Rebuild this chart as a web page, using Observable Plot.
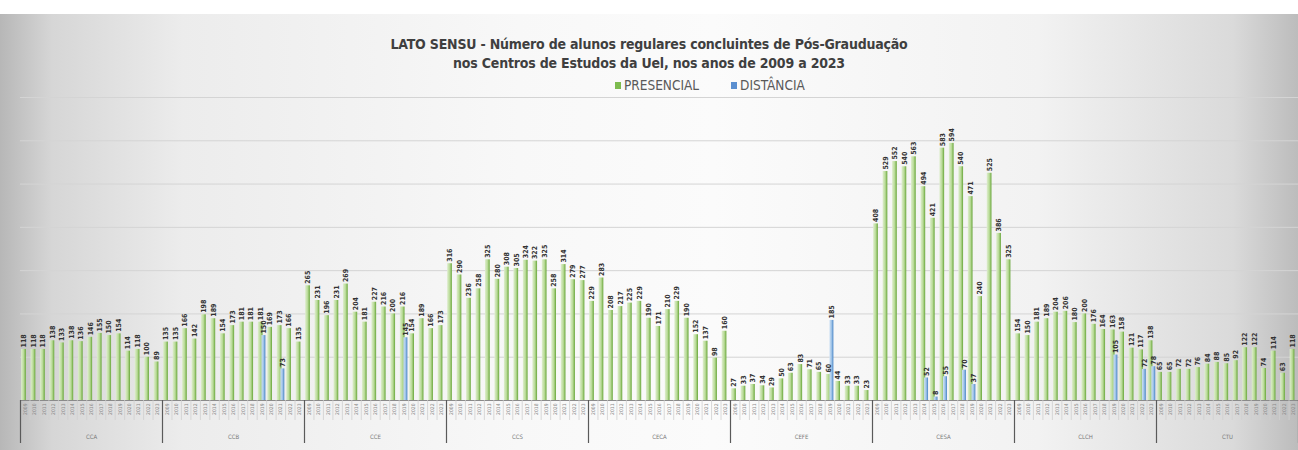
<!DOCTYPE html>
<html>
<head>
<meta charset="utf-8">
<script src="https://cdn.jsdelivr.net/npm/d3@7"></script>
<script src="https://cdn.jsdelivr.net/npm/@observablehq/plot@0.6"></script>
<style>
html, body { margin: 0; padding: 0; background: #ffffff; }
#wrap { position: relative; width: 1298px; height: 450px; overflow: hidden; }
#panel { position: absolute; left: 0; top: 14px; width: 1298px; height: 436px;
  background: linear-gradient(to right, #b7b7b7 0%, #d6d6d6 4%, #ececec 14%, #f8f8f8 40%, #fbfbfb 55%, #f2f2f2 80%, #dadada 95%, #bcbcbc 100%); }
#title { position: absolute; left: 0; width: 1298px; top: 35px; text-align: center;
  font-family: "Liberation Sans Narrow", "DejaVu Sans Condensed", "Arial Narrow", sans-serif;
  font-weight: bold; font-size: 14px; letter-spacing: -0.2px; line-height: 19px; color: #3f3f3f; }
#legend { position: absolute; top: 78px; left: 615px; white-space: nowrap;
  font-family: "Liberation Sans Narrow", "DejaVu Sans Condensed", "Arial Narrow", sans-serif;
  font-size: 13.5px; line-height: 14px; color: #595959; }
#legend span.sw { display: inline-block; width: 6px; height: 7px; margin-right: 3px; vertical-align: 1px; }
#legend span.item { margin-right: 32px; }
#chart { position: absolute; left: 0; top: 92px; }
</style>
</head>
<body>
<div id="wrap">
  <div id="panel"></div>
  <div id="title"></div>
  <div id="legend"></div>
  <div id="chart"></div>
</div>
<script>
// ---- data ----
const titleLines = [
  "LATO SENSU - Número de alunos regulares concluintes de Pós-Grauduação",
  "nos Centros de Estudos da Uel, nos anos de 2009 a 2023"
];
const seriesNames = ["PRESENCIAL", "DISTÂNCIA"];
const groups = ["CCA", "CCB", "CCE", "CCS", "CECA", "CEFE", "CESA", "CLCH", "CTU"];
const years = ["2009","2010","2011","2012","2013","2014","2015","2016","2017","2018","2019","2020","2021","2022","2023"];

const presCCA  = [118,118,118,138,133,138,136,146,155,150,154,114,118,100,89];
const presCCB  = [135,135,166,142,198,189,154,173,181,181,181,169,173,166,135];
const presCCE  = [265,231,196,231,269,204,181,227,216,200,216,154,189,166,173];
const presCCS  = [316,290,236,258,325,280,308,305,324,322,325,258,314,279,277];
const presCECA = [229,283,208,217,225,229,190,171,210,229,190,152,137,98,160];
const presCEFE = [27,33,37,34,29,50,63,83,71,65,60,44,33,33,23];
const presCESA = [408,529,552,540,563,494,421,583,594,540,471,240,525,386,325];
const presCLCH = [154,150,181,189,204,206,180,200,176,164,163,158,121,117,138];
const presCTU  = [65,65,72,72,76,84,88,85,92,122,122,74,114,63,118];

const distCCA  = [null,null,null,null,null,null,null,null,null,null,null,null,null,null,null];
const distCCB  = [null,null,null,null,null,null,null,null,null,null,150,null,73,null,null];
const distCCE  = [null,null,null,null,null,null,null,null,null,null,145,null,null,null,null];
const distCCS  = [null,null,null,null,null,null,null,null,null,null,null,null,null,null,null];
const distCECA = [null,null,null,null,null,null,null,null,null,null,null,null,null,null,null];
const distCEFE = [null,null,null,null,null,null,null,null,null,null,185,null,null,null,null];
const distCESA = [null,null,null,null,null,52,8,55,null,70,37,null,null,null,null];
const distCLCH = [null,null,null,null,null,null,null,null,null,null,105,null,null,72,78];
const distCTU  = [null,null,null,null,null,null,null,null,null,null,null,null,null,null,null];

const gridValues = [100, 200, 300, 400, 500, 600, 700];

// ---- build table ----
const presencial = [presCCA, presCCB, presCCE, presCCS, presCECA, presCEFE, presCESA, presCLCH, presCTU];
const distancia  = [distCCA, distCCB, distCCE, distCCS, distCECA, distCEFE, distCESA, distCLCH, distCTU];
const rows = groups.flatMap((g, gi) => years.map((y, yi) => ({
  g, y, idx: gi * years.length + yi, pres: presencial[gi][yi], dist: distancia[gi][yi]
})));
const distRows = rows.filter(d => d.dist != null);
const nCat = rows.length;
const boundaries = groups.map((g, i) => i * years.length).concat([nCat]);

// ---- header ----
document.getElementById("title").innerHTML = titleLines.join("<br>");
document.getElementById("legend").innerHTML =
  `<span class="item"><span class="sw" style="background:#7dbb4f"></span>${seriesNames[0]}</span>` +
  `<span class="item"><span class="sw" style="background:#5b8fd0"></span>${seriesNames[1]}</span>`;

const labelFont = "'Liberation Sans Narrow', 'DejaVu Sans Condensed', 'Arial Narrow', sans-serif";

const svg = Plot.plot({
  width: 1298,
  height: 358,
  marginTop: 5,
  marginBottom: 50,
  marginLeft: 20,
  marginRight: 0,
  x: {type: "linear", domain: [0, nCat], axis: null},
  y: {domain: [0, 700], axis: null},
  style: {background: "transparent", fontFamily: labelFont},
  marks: [
    Plot.ruleY(gridValues, {stroke: "#d4d4d4", strokeWidth: 1}),
    Plot.rect(rows, {x1: d => d.idx + 0.12, x2: d => d.idx + 0.62, y1: 0, y2: "pres", fill: "url(#gGreen)"}),
    Plot.rect(distRows, {x1: d => d.idx + 0.5, x2: d => d.idx + 0.92, y1: 0, y2: "dist", fill: "url(#gBlue)"}),
    Plot.ruleY([0], {stroke: "#8a8a8a", strokeWidth: 1}),
    Plot.ruleX(rows, {x: "idx", y1: 0, y2: 0, insetBottom: -20, stroke: "#cfcfcf", strokeWidth: 0.8}),
    Plot.ruleX(boundaries, {x: d => d, y1: 0, y2: 0, insetBottom: -43, stroke: "#5a5a5a", strokeWidth: 1.2}),
    Plot.text(rows, {x: d => d.idx + 0.37, y: "pres", text: d => String(d.pres), rotate: -90,
      textAnchor: "start", dy: -2, fontSize: 7, fill: "#333333", fontWeight: "bold"}),
    Plot.text(distRows, {x: d => d.idx + 0.71, y: "dist", text: d => String(d.dist), rotate: -90,
      textAnchor: "start", dy: -2, fontSize: 7, fill: "#333333", fontWeight: "bold"}),
    Plot.text(rows, {x: d => d.idx + 0.5, y: 0, text: "y", rotate: -90, textAnchor: "end",
      dy: 3, fontSize: 5, fill: "#8a8a8a"}),
    Plot.text(groups, {x: (g, i) => i * years.length + years.length / 2, y: 0, text: d => d,
      dy: 37, fontSize: 6, fill: "#7a7a7a"})
  ]
});

d3.select(svg).insert("defs", ":first-child").html(`
  <linearGradient id="gGreen" x1="0" x2="1" y1="0" y2="0">
    <stop offset="0%" stop-color="#dfeecf"/>
    <stop offset="55%" stop-color="#b8da96"/>
    <stop offset="100%" stop-color="#68a63a"/>
  </linearGradient>
  <linearGradient id="gBlue" x1="0" x2="1" y1="0" y2="0">
    <stop offset="0%" stop-color="#d2e3f4"/>
    <stop offset="55%" stop-color="#9bc1e7"/>
    <stop offset="100%" stop-color="#4682c4"/>
  </linearGradient>`);

document.getElementById("chart").appendChild(svg);
</script>
</body>
</html>
